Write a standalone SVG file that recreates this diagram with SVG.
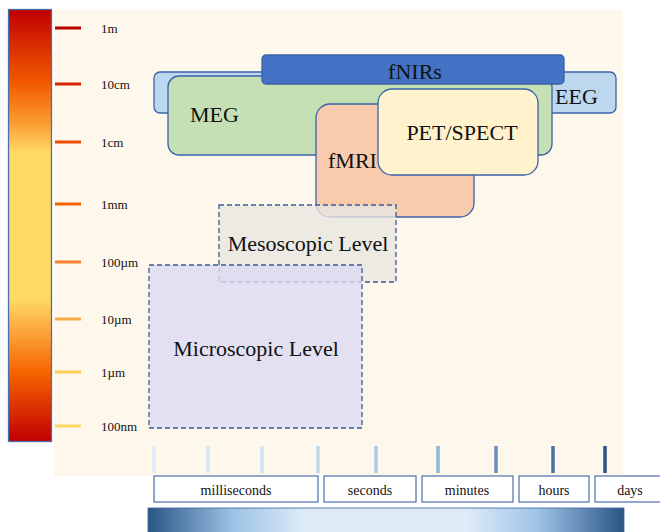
<svg xmlns="http://www.w3.org/2000/svg" width="660" height="532" viewBox="0 0 660 532">
  <defs>
    <linearGradient id="scaleGrad" x1="0" y1="0" x2="0" y2="1">
      <stop offset="0" stop-color="#C00000"/>
      <stop offset="0.17" stop-color="#F25A00"/>
      <stop offset="0.26" stop-color="#FA9A30"/>
      <stop offset="0.33" stop-color="#FFD966"/>
      <stop offset="0.67" stop-color="#FFD966"/>
      <stop offset="0.75" stop-color="#FBA238"/>
      <stop offset="0.84" stop-color="#F66400"/>
      <stop offset="1" stop-color="#C00000"/>
    </linearGradient>
    <linearGradient id="timeGrad" x1="0" y1="0" x2="1" y2="0">
      <stop offset="0" stop-color="#2A5584"/>
      <stop offset="0.18" stop-color="#9DC3E6"/>
      <stop offset="0.33" stop-color="#DEEBF7"/>
      <stop offset="0.67" stop-color="#DEEBF7"/>
      <stop offset="0.82" stop-color="#9DC3E6"/>
      <stop offset="1" stop-color="#2A5584"/>
    </linearGradient>
  </defs>
  <style>
    .lbl { font-family: "Liberation Serif", "Times New Roman", serif; fill: #111; }
    .scale { font-size: 13px; }
    .big { font-size: 22px; }
    .time { font-size: 14px; text-anchor: middle; }
    .node { stroke: #3A62A8; stroke-width: 1.3; }
    .dash { stroke: #3A5A98; stroke-width: 1.3; stroke-dasharray: 5 3; }
    .tick { stroke-width: 3; }
    .ttick { stroke-width: 3.5; }
    .tbox { fill: #FFFFFF; stroke: #4A6FAE; stroke-width: 1.2; }
  </style>

  <!-- page -->
  <rect x="0" y="0" width="660" height="532" fill="#FFFFFF"/>
  <rect x="54" y="10" width="569" height="466" fill="#FEF8EC"/>

  <!-- spatial scale bar -->
  <g id="scale-bar">
    <rect x="8.5" y="9.5" width="43" height="432" fill="url(#scaleGrad)" stroke="#4A6FAE" stroke-width="1.3"/>
    <line class="tick" x1="55" y1="28" x2="81" y2="28" stroke="#C00000"/>
    <line class="tick" x1="55" y1="84" x2="81" y2="84" stroke="#D82000"/>
    <line class="tick" x1="55" y1="142" x2="81" y2="142" stroke="#F04A00"/>
    <line class="tick" x1="55" y1="204" x2="81" y2="204" stroke="#F56200"/>
    <line class="tick" x1="55" y1="262" x2="81" y2="262" stroke="#F5822A"/>
    <line class="tick" x1="55" y1="319" x2="81" y2="319" stroke="#F8A848"/>
    <line class="tick" x1="55" y1="372" x2="81" y2="372" stroke="#FFCC55"/>
    <line class="tick" x1="55" y1="426" x2="81" y2="426" stroke="#FFD966"/>
    <text class="lbl scale" x="101" y="33">1m</text>
    <text class="lbl scale" x="101" y="89">10cm</text>
    <text class="lbl scale" x="101" y="147">1cm</text>
    <text class="lbl scale" x="101" y="209">1mm</text>
    <text class="lbl scale" x="101" y="267">100µm</text>
    <text class="lbl scale" x="101" y="324">10µm</text>
    <text class="lbl scale" x="101" y="377">1µm</text>
    <text class="lbl scale" x="101" y="431">100nm</text>
  </g>

  <!-- imaging techniques -->
  <g id="eeg">
    <rect class="node" x="154" y="72" width="462" height="41" rx="6" fill="#BDD7EE"/>
    <text class="lbl big" x="555" y="104">EEG</text>
  </g>
  <g id="meg">
    <rect class="node" x="168" y="76" width="384" height="79" rx="11" fill="#C5E0B4"/>
    <text class="lbl big" x="190" y="122">MEG</text>
  </g>
  <g id="fnirs">
    <rect class="node" x="262" y="55" width="302" height="29" rx="4" fill="#4472C4"/>
    <text class="lbl big" x="415" y="79" text-anchor="middle">fNIRs</text>
  </g>
  <g id="fmri">
    <rect class="node" x="316" y="104" width="158" height="113" rx="14" fill="#F8CBAD"/>
    <text class="lbl big" x="328" y="168">fMRI</text>
  </g>
  <g id="pet-spect">
    <rect class="node" x="378" y="89" width="160" height="86" rx="14" fill="#FFF2CC"/>
    <text class="lbl big" x="462" y="140" text-anchor="middle">PET/SPECT</text>
  </g>

  <!-- organisational levels -->
  <g id="mesoscopic">
    <rect class="dash" x="219" y="205" width="177" height="77" fill="#E9E6E2" fill-opacity="0.8"/>
    <text class="lbl big" x="308" y="251" text-anchor="middle">Mesoscopic Level</text>
  </g>
  <g id="microscopic">
    <rect class="dash" x="149" y="265" width="213" height="163" fill="#DCDAF4" fill-opacity="0.8"/>
    <text class="lbl big" x="256" y="356" text-anchor="middle">Microscopic Level</text>
  </g>

  <!-- temporal scale -->
  <g id="time-ticks">
    <line class="ttick" x1="154" y1="446" x2="154" y2="473" stroke="#DEEBF7"/>
    <line class="ttick" x1="208" y1="446" x2="208" y2="473" stroke="#D8E7F5"/>
    <line class="ttick" x1="262" y1="446" x2="262" y2="473" stroke="#D2E3F3"/>
    <line class="ttick" x1="318" y1="446" x2="318" y2="473" stroke="#BDD7EE"/>
    <line class="ttick" x1="376" y1="446" x2="376" y2="473" stroke="#A9CBE8"/>
    <line class="ttick" x1="438" y1="446" x2="438" y2="473" stroke="#8FB4DA"/>
    <line class="ttick" x1="496" y1="446" x2="496" y2="473" stroke="#6890BE"/>
    <line class="ttick" x1="553" y1="446" x2="553" y2="473" stroke="#4A73A3"/>
    <line class="ttick" x1="605" y1="446" x2="605" y2="473" stroke="#2E5585"/>
  </g>
  <g id="milliseconds">
    <rect class="tbox" x="154" y="476" width="164" height="26"/>
    <text class="lbl time" x="236" y="495">milliseconds</text>
  </g>
  <g id="seconds">
    <rect class="tbox" x="324" y="476" width="92" height="26"/>
    <text class="lbl time" x="370" y="495">seconds</text>
  </g>
  <g id="minutes">
    <rect class="tbox" x="422" y="476" width="91" height="26"/>
    <text class="lbl time" x="467" y="495">minutes</text>
  </g>
  <g id="hours">
    <rect class="tbox" x="519" y="476" width="70" height="26"/>
    <text class="lbl time" x="554" y="495">hours</text>
  </g>
  <g id="days">
    <rect class="tbox" x="595" y="476" width="70" height="26"/>
    <text class="lbl time" x="630" y="495">days</text>
  </g>
  <g id="time-bar">
    <rect x="148" y="508" width="476" height="26" fill="url(#timeGrad)" stroke="#3A62A0" stroke-width="0.8"/>
  </g>
</svg>
